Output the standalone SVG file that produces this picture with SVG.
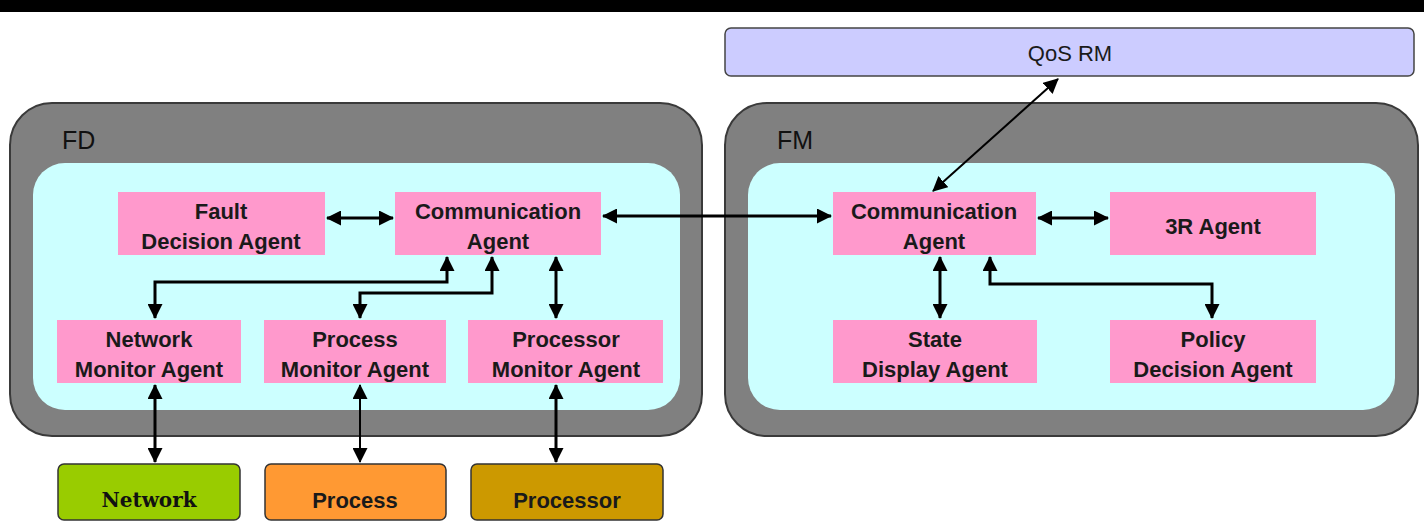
<svg xmlns="http://www.w3.org/2000/svg" width="1424" height="525" viewBox="0 0 1424 525">
<defs>
<style>
.outer{fill:#808080;stroke:#3a3a3a;stroke-width:2}
.inner{fill:#CCFFFF}
.pink{fill:#FF99CC}
.t{font-family:"Liberation Sans",Arial,sans-serif;font-size:22px;font-weight:bold;fill:#1a1a1a;text-anchor:middle}
.lbl{font-family:"Liberation Sans",Arial,sans-serif;font-size:25px;fill:#111}
.c{fill:none;stroke:#000;stroke-width:3;marker-start:url(#ah);marker-end:url(#ah)}
.cd{fill:none;stroke:#000;stroke-width:2;marker-start:url(#ah);marker-end:url(#ah)}
.bot{stroke:#333;stroke-width:1.5}
</style>
<marker id="ah" viewBox="0 0 15 15" refX="14" refY="7.5" markerWidth="15" markerHeight="15" markerUnits="userSpaceOnUse" orient="auto-start-reverse">
<path d="M0,0 L15,7.5 L0,15 Z" fill="#000"/>
</marker>
</defs>
<rect x="0" y="0" width="1424" height="12" fill="#000"/>

<g id="qos">
<rect x="725" y="28" width="689" height="48" rx="6" fill="#CCCCFF" stroke="#444" stroke-width="1.5"/>
<text x="1070" y="61" class="t" style="font-weight:normal">QoS RM</text>
</g>

<g id="fd">
<rect x="10" y="103" width="692" height="333" rx="42" class="outer"/>
<rect x="33" y="163" width="647" height="247" rx="32" class="inner"/>
<text x="62" y="149" class="lbl">FD</text>
</g>

<g id="fm">
<rect x="725" y="103" width="693" height="333" rx="42" class="outer"/>
<rect x="748" y="163" width="647" height="247" rx="32" class="inner"/>
<text x="777" y="149" class="lbl">FM</text>
</g>

<g id="fault">
<rect x="118" y="192" width="207" height="63" class="pink"/>
<text x="221" y="219" class="t">Fault</text>
<text x="221" y="249" class="t">Decision Agent</text>
</g>
<g id="commfd">
<rect x="395" y="192" width="206" height="63" class="pink"/>
<text x="498" y="219" class="t">Communication</text>
<text x="498" y="249" class="t">Agent</text>
</g>
<g id="netmon">
<rect x="57" y="320" width="184" height="63" class="pink"/>
<text x="149" y="347" class="t">Network</text>
<text x="149" y="377" class="t">Monitor Agent</text>
</g>
<g id="procmon">
<rect x="264" y="320" width="182" height="63" class="pink"/>
<text x="355" y="347" class="t">Process</text>
<text x="355" y="377" class="t">Monitor Agent</text>
</g>
<g id="cpumon">
<rect x="468" y="320" width="195" height="63" class="pink"/>
<text x="566" y="347" class="t">Processor</text>
<text x="566" y="377" class="t">Monitor Agent</text>
</g>
<g id="commfm">
<rect x="833" y="192" width="203" height="63" class="pink"/>
<text x="934" y="219" class="t">Communication</text>
<text x="934" y="249" class="t">Agent</text>
</g>
<g id="r3">
<rect x="1110" y="192" width="206" height="63" class="pink"/>
<text x="1213" y="234" class="t">3R Agent</text>
</g>
<g id="state">
<rect x="833" y="320" width="204" height="63" class="pink"/>
<text x="935" y="347" class="t">State</text>
<text x="935" y="377" class="t">Display Agent</text>
</g>
<g id="policy">
<rect x="1110" y="320" width="206" height="63" class="pink"/>
<text x="1213" y="347" class="t">Policy</text>
<text x="1213" y="377" class="t">Decision Agent</text>
</g>

<g id="network">
<rect x="58" y="464" width="182" height="56" rx="6" fill="#99CC00" class="bot"/>
<text x="149" y="507" style="font-family:'DejaVu Serif',serif;font-size:20px;font-weight:bold;fill:#111;text-anchor:middle">Network</text>
</g>
<g id="process">
<rect x="265" y="464" width="181" height="56" rx="6" fill="#FF9933" class="bot"/>
<text x="355" y="508" class="t" style="font-size:22px">Process</text>
</g>
<g id="processor">
<rect x="471" y="464" width="192" height="56" rx="6" fill="#CC9900" class="bot"/>
<text x="567" y="508" class="t" style="font-size:22px">Processor</text>
</g>

<g id="connectors">
<line x1="327" y1="218" x2="393" y2="218" class="c"/>
<line x1="603" y1="216" x2="831" y2="216" class="c"/>
<path d="M447,257 V282 H155 V318" class="c"/>
<path d="M492,257 V293 H360 V318" class="c"/>
<line x1="556" y1="257" x2="556" y2="318" class="c"/>
<line x1="155" y1="385" x2="155" y2="462" class="c"/>
<line x1="360" y1="385" x2="360" y2="462" class="cd"/>
<line x1="556" y1="385" x2="556" y2="462" class="c"/>
<line x1="1058" y1="79" x2="933" y2="191" class="cd"/>
<line x1="1038" y1="218" x2="1108" y2="218" class="c"/>
<line x1="940" y1="257" x2="940" y2="318" class="c"/>
<path d="M990,257 V284 H1212 V318" class="c"/>
</g>
</svg>
